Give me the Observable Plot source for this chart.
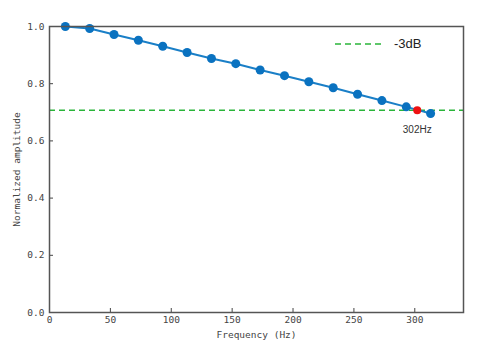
<!DOCTYPE html>
<html><head>
<meta charset="utf-8">
<script src="https://cdn.jsdelivr.net/npm/d3@7"></script>
<script src="https://cdn.jsdelivr.net/npm/@observablehq/plot@0.6"></script>
<style>
body{margin:0;background:#fff}
#wrap{position:relative;width:481px;height:356px}
#legend{position:absolute;left:335px;top:36px;display:flex;align-items:center;font-family:"Liberation Sans",Arial,sans-serif;font-size:13px;color:#222}
#legend svg{margin-right:9px}
</style>
</head><body>
<div id="wrap"><div id="legend"></div></div>
<script>
const freqs = [13, 33, 53, 73, 93, 113, 133, 153, 173, 193, 213, 233, 253, 273, 293, 313];
const amps = [1.0, 0.993, 0.972, 0.952, 0.931, 0.909, 0.888, 0.870, 0.848, 0.828, 0.807, 0.786, 0.763, 0.741, 0.719, 0.696];
const cutoffFreqs = [302];
const cutoffAmps = [0.707];
const thresholdLevel = 0.707;
const legendLabel = "-3dB";
const xTicks = [0, 50, 100, 150, 200, 250, 300];
const yTicks = [0, 0.2, 0.4, 0.6, 0.8, 1.0];

const data = freqs.map((f, i) => ({f, a: amps[i]}));
const cutoff = cutoffFreqs.map((f, i) => ({f, a: cutoffAmps[i]}));

const green = "#2ab53a";
const plot = Plot.plot({
  width: 481, height: 356,
  marginLeft: 49, marginRight: 18, marginTop: 26, marginBottom: 44,
  style: {fontFamily: "'DejaVu Sans Mono', monospace", fontSize: "9.5px", color: "#444", background: "#fff"},
  x: {domain: [0, 340]},
  y: {domain: [0, 1]},
  marks: [
    Plot.ruleY([thresholdLevel], {stroke: green, strokeWidth: 1.5, strokeDasharray: "6,4"}),
    Plot.line(data, {x: "f", y: "a", stroke: "#1a7fc7", strokeWidth: 2}),
    Plot.dot(data, {x: "f", y: "a", r: 4.5, fill: "#0a72c0"}),
    Plot.dot(cutoff, {x: "f", y: "a", r: 4, fill: "#ee1111"}),
    Plot.text(cutoff, {x: "f", y: "a", text: d => `${d.f}Hz`, dy: 19, fontFamily: "'Liberation Sans', Arial, sans-serif", fontSize: 10, fill: "#333"}),
    Plot.axisX({ticks: xTicks, tickSize: -4, tickPadding: 8, tickFormat: d => String(d), label: "Frequency (Hz)", labelAnchor: "center", labelArrow: "none", labelOffset: 25}),
    Plot.axisY({ticks: yTicks, tickSize: -4, tickPadding: 9, tickFormat: d => d.toFixed(1), label: "Normalized amplitude", labelAnchor: "center", labelArrow: "none", labelOffset: 36}),
    Plot.frame({stroke: "#555", strokeWidth: 1.5})
  ]
});
const wrap = document.getElementById("wrap");
wrap.insertBefore(plot, wrap.firstChild);

const legend = document.getElementById("legend");
legend.innerHTML = `<svg width="50" height="4"><line x1="0" y1="2" x2="50" y2="2" stroke="${green}" stroke-width="1.5" stroke-dasharray="6,4"/></svg><span>${legendLabel}</span>`;
</script>
</body></html>
